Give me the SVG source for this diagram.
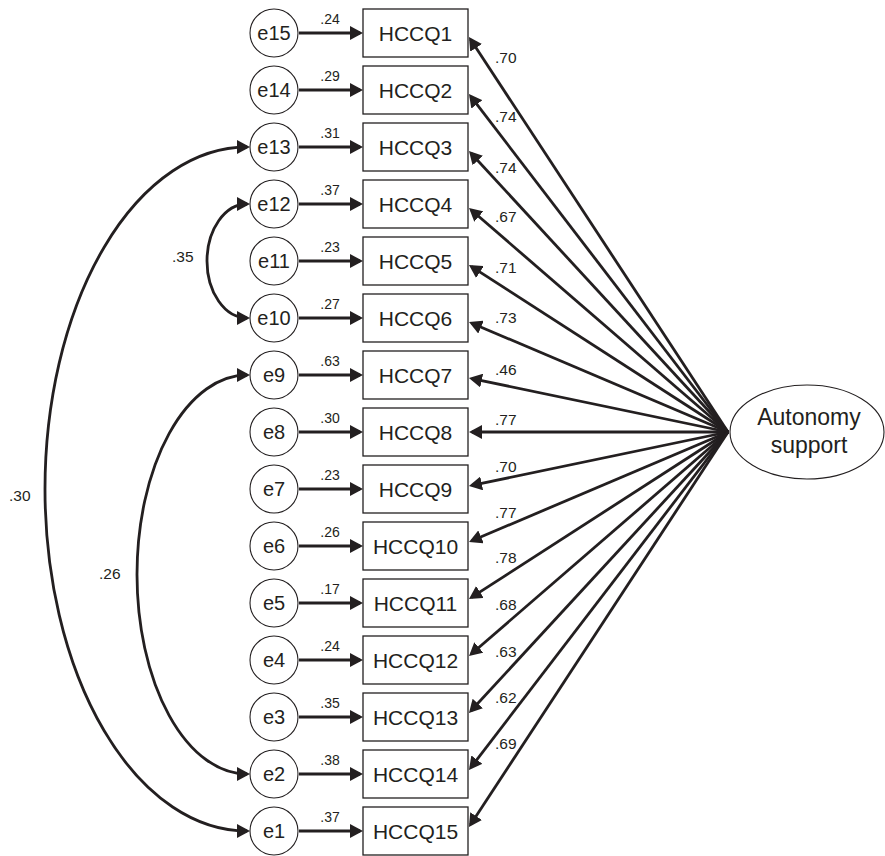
<svg xmlns="http://www.w3.org/2000/svg" width="885" height="856" viewBox="0 0 885 856">
<style>
.box{fill:#fff;stroke:#231f20;stroke-width:1.3}
.err{fill:#fff;stroke:#231f20;stroke-width:1.1}
.lat{fill:#fff;stroke:#231f20;stroke-width:1.1}
.t{font-family:"Liberation Sans",Arial,sans-serif;fill:#231f20;text-anchor:middle}
.bt{font-size:21px}
.et{font-size:20px}
.lt{font-size:23px}
.w{font-family:"Liberation Sans",Arial,sans-serif;fill:#231f20;font-size:14px;text-anchor:middle}
.f{font-family:"Liberation Sans",Arial,sans-serif;fill:#231f20;font-size:15.5px}
.c{fill:none;stroke:#231f20;stroke-width:2.8}
</style>
<defs>
<marker id="ah" markerUnits="userSpaceOnUse" markerWidth="14" markerHeight="14" refX="10" refY="7" orient="auto-start-reverse">
<path d="M0,0 L13,7 L0,14 z" fill="#231f20"/>
</marker>
</defs>
<g id="connectors">
<g id="error-paths" class="c" marker-end="url(#ah)">
<line x1="299" y1="33" x2="360" y2="33"/>
<line x1="299" y1="90" x2="360" y2="90"/>
<line x1="299" y1="147" x2="360" y2="147"/>
<line x1="299" y1="204" x2="360" y2="204"/>
<line x1="299" y1="261" x2="360" y2="261"/>
<line x1="299" y1="318" x2="360" y2="318"/>
<line x1="299" y1="375" x2="360" y2="375"/>
<line x1="299" y1="432" x2="360" y2="432"/>
<line x1="299" y1="489" x2="360" y2="489"/>
<line x1="299" y1="546" x2="360" y2="546"/>
<line x1="299" y1="603" x2="360" y2="603"/>
<line x1="299" y1="660" x2="360" y2="660"/>
<line x1="299" y1="717" x2="360" y2="717"/>
<line x1="299" y1="774" x2="360" y2="774"/>
<line x1="299" y1="831" x2="360" y2="831"/>
</g>
<g id="loadings" class="c" marker-end="url(#ah)">
<line x1="728" y1="432" x2="470.6" y2="39.5"/>
<line x1="728" y1="432" x2="470.8" y2="96.4"/>
<line x1="728" y1="432" x2="471.0" y2="153.2"/>
<line x1="728" y1="432" x2="471.3" y2="210.0"/>
<line x1="728" y1="432" x2="471.5" y2="266.6"/>
<line x1="728" y1="432" x2="471.8" y2="323.2"/>
<line x1="728" y1="432" x2="471.9" y2="378.6"/>
<line x1="728" y1="432" x2="472" y2="432"/>
<line x1="728" y1="432" x2="471.9" y2="485.4"/>
<line x1="728" y1="432" x2="471.8" y2="540.8"/>
<line x1="728" y1="432" x2="471.5" y2="597.4"/>
<line x1="728" y1="432" x2="471.3" y2="654.0"/>
<line x1="728" y1="432" x2="471.0" y2="710.8"/>
<line x1="728" y1="432" x2="470.8" y2="767.6"/>
<line x1="728" y1="432" x2="470.6" y2="824.5"/>
</g>
<g id="covariances" class="c" marker-start="url(#ah)" marker-end="url(#ah)">
<path d="M247,204 A40 57 0 0 0 247 318"/>
<path d="M247,375 A110 199.5 0 0 0 247 774"/>
<path d="M247,147 A202 342 0 0 0 247 831"/>
</g>
<g id="weights">
<text class="w" x="330" y="24">.24</text>
<text class="w" x="330" y="81">.29</text>
<text class="w" x="330" y="138">.31</text>
<text class="w" x="330" y="195">.37</text>
<text class="w" x="330" y="252">.23</text>
<text class="w" x="330" y="309">.27</text>
<text class="w" x="330" y="366">.63</text>
<text class="w" x="330" y="423">.30</text>
<text class="w" x="330" y="480">.23</text>
<text class="w" x="330" y="537">.26</text>
<text class="w" x="330" y="594">.17</text>
<text class="w" x="330" y="651">.24</text>
<text class="w" x="330" y="708">.35</text>
<text class="w" x="330" y="765">.38</text>
<text class="w" x="330" y="822">.37</text>
<text class="f" x="495" y="63">.70</text>
<text class="f" x="495" y="122">.74</text>
<text class="f" x="495" y="173">.74</text>
<text class="f" x="495" y="222">.67</text>
<text class="f" x="495" y="273">.71</text>
<text class="f" x="495" y="323">.73</text>
<text class="f" x="495" y="375">.46</text>
<text class="f" x="495" y="425">.77</text>
<text class="f" x="495" y="472">.70</text>
<text class="f" x="495" y="518">.77</text>
<text class="f" x="495" y="563">.78</text>
<text class="f" x="495" y="610">.68</text>
<text class="f" x="495" y="657">.63</text>
<text class="f" x="495" y="703">.62</text>
<text class="f" x="495" y="749">.69</text>
<text class="f" x="172" y="262">.35</text>
<text class="f" x="99" y="579">.26</text>
<text class="f" x="9" y="501">.30</text>
</g>
</g>
<g id="e15"><circle class="err" cx="274" cy="33" r="24"/><text class="t et" x="274" y="40">e15</text></g>
<g id="e14"><circle class="err" cx="274" cy="90" r="24"/><text class="t et" x="274" y="97">e14</text></g>
<g id="e13"><circle class="err" cx="274" cy="147" r="24"/><text class="t et" x="274" y="154">e13</text></g>
<g id="e12"><circle class="err" cx="274" cy="204" r="24"/><text class="t et" x="274" y="211">e12</text></g>
<g id="e11"><circle class="err" cx="274" cy="261" r="24"/><text class="t et" x="274" y="268">e11</text></g>
<g id="e10"><circle class="err" cx="274" cy="318" r="24"/><text class="t et" x="274" y="325">e10</text></g>
<g id="e9"><circle class="err" cx="274" cy="375" r="24"/><text class="t et" x="274" y="382">e9</text></g>
<g id="e8"><circle class="err" cx="274" cy="432" r="24"/><text class="t et" x="274" y="439">e8</text></g>
<g id="e7"><circle class="err" cx="274" cy="489" r="24"/><text class="t et" x="274" y="496">e7</text></g>
<g id="e6"><circle class="err" cx="274" cy="546" r="24"/><text class="t et" x="274" y="553">e6</text></g>
<g id="e5"><circle class="err" cx="274" cy="603" r="24"/><text class="t et" x="274" y="610">e5</text></g>
<g id="e4"><circle class="err" cx="274" cy="660" r="24"/><text class="t et" x="274" y="667">e4</text></g>
<g id="e3"><circle class="err" cx="274" cy="717" r="24"/><text class="t et" x="274" y="724">e3</text></g>
<g id="e2"><circle class="err" cx="274" cy="774" r="24"/><text class="t et" x="274" y="781">e2</text></g>
<g id="e1"><circle class="err" cx="274" cy="831" r="24"/><text class="t et" x="274" y="838">e1</text></g>
<g id="HCCQ1"><rect class="box" x="363" y="9" width="105" height="48"/><text class="t bt" x="415.5" y="41">HCCQ1</text></g>
<g id="HCCQ2"><rect class="box" x="363" y="66" width="105" height="48"/><text class="t bt" x="415.5" y="98">HCCQ2</text></g>
<g id="HCCQ3"><rect class="box" x="363" y="123" width="105" height="48"/><text class="t bt" x="415.5" y="155">HCCQ3</text></g>
<g id="HCCQ4"><rect class="box" x="363" y="180" width="105" height="48"/><text class="t bt" x="415.5" y="212">HCCQ4</text></g>
<g id="HCCQ5"><rect class="box" x="363" y="237" width="105" height="48"/><text class="t bt" x="415.5" y="269">HCCQ5</text></g>
<g id="HCCQ6"><rect class="box" x="363" y="294" width="105" height="48"/><text class="t bt" x="415.5" y="326">HCCQ6</text></g>
<g id="HCCQ7"><rect class="box" x="363" y="351" width="105" height="48"/><text class="t bt" x="415.5" y="383">HCCQ7</text></g>
<g id="HCCQ8"><rect class="box" x="363" y="408" width="105" height="48"/><text class="t bt" x="415.5" y="440">HCCQ8</text></g>
<g id="HCCQ9"><rect class="box" x="363" y="465" width="105" height="48"/><text class="t bt" x="415.5" y="497">HCCQ9</text></g>
<g id="HCCQ10"><rect class="box" x="363" y="522" width="105" height="48"/><text class="t bt" x="415.5" y="554">HCCQ10</text></g>
<g id="HCCQ11"><rect class="box" x="363" y="579" width="105" height="48"/><text class="t bt" x="415.5" y="611">HCCQ11</text></g>
<g id="HCCQ12"><rect class="box" x="363" y="636" width="105" height="48"/><text class="t bt" x="415.5" y="668">HCCQ12</text></g>
<g id="HCCQ13"><rect class="box" x="363" y="693" width="105" height="48"/><text class="t bt" x="415.5" y="725">HCCQ13</text></g>
<g id="HCCQ14"><rect class="box" x="363" y="750" width="105" height="48"/><text class="t bt" x="415.5" y="782">HCCQ14</text></g>
<g id="HCCQ15"><rect class="box" x="363" y="807" width="105" height="48"/><text class="t bt" x="415.5" y="839">HCCQ15</text></g>
<g id="autonomy-support"><ellipse class="lat" cx="807" cy="432" rx="77" ry="47"/><text class="t lt" x="809" y="425">Autonomy</text><text class="t lt" x="809" y="453">support</text></g>
</svg>
